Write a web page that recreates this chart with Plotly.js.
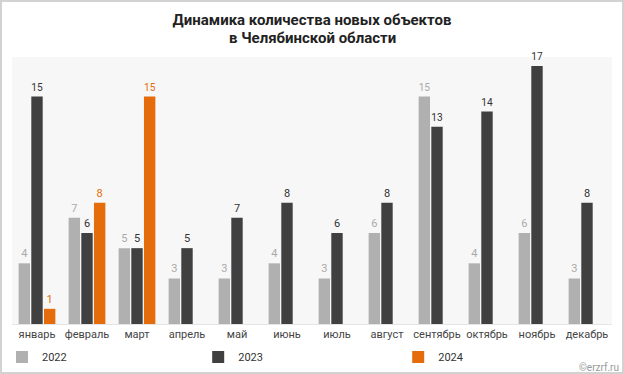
<!DOCTYPE html>
<html>
<head>
<meta charset="utf-8">
<script src="https://cdn.plot.ly/plotly-3.0.1.min.js"></script>
<style>
html,body{margin:0;padding:0;background:#d2d2d2;width:624px;height:374px;overflow:hidden;}
#chart{position:absolute;left:2px;top:2px;width:620px;height:370px;background:#fff;}
</style>
</head>
<body>
<div id="chart"></div>
<script>
const months = ["январь","февраль","март","апрель","май","июнь","июль","август","сентябрь","октябрь","ноябрь","декабрь"];
const v2022 = [4,7,5,3,3,4,3,6,15,4,6,3];
const v2023 = [15,6,5,5,7,8,6,8,13,14,17,8];
const v2024 = [1,8,15,null,null,null,null,null,null,null,null,null];
const seriesNames = ["2022","2023","2024"];
const titleLines = ["Динамика количества новых объектов", "в Челябинской области"];
const colors = ["#b0b0b0","#404040","#e46c0a"];
const labelColors = ["#aaaaaa","#333333","#e46c0a"];
const legendIds = ["legend","legend2","legend3"];

const data = [v2022, v2023, v2024].map((vals, i) => ({
  type: "bar",
  name: seriesNames[i],
  legend: legendIds[i],
  x: months,
  y: vals,
  marker: {color: colors[i]},
  text: vals.map(v => v === null ? "" : String(v)),
  textposition: "outside",
  textfont: {family: "Roboto, sans-serif", size: 11, color: labelColors[i]},
  cliponaxis: false,
  hoverinfo: "none"
}));

function legendAt(x) {
  return {
    orientation: "h", x: x, xanchor: "left",
    yref: "container", y: 1 - 355/370, yanchor: "middle",
    bgcolor: "rgba(0,0,0,0)", itemwidth: 30,
    font: {family: "Roboto, sans-serif", size: 11, color: "#333"}
  };
}

const titleFont = {family: "Roboto, sans-serif", size: 15, color: "#222"};

const layout = {
  width: 620, height: 370,
  margin: {l: 10, r: 10, t: 55, b: 48},
  paper_bgcolor: "#ffffff",
  plot_bgcolor: "#f7f7f7",
  font: {family: "Roboto, sans-serif", color: "#333"},
  title: {
    text: "<b>" + titleLines[0] + "</b>",
    font: titleFont,
    x: 0.5, xanchor: "center", y: 1 - 17.5/370, yanchor: "middle", yref: "container"
  },
  barmode: "group",
  bargap: 0.24,
  bargroupgap: 0.1,
  xaxis: {
    type: "category",
    showgrid: false, zeroline: false, showline: true, linecolor: "#e6e6e6",
    ticks: "", tickfont: {size: 11, color: "#444"}, automargin: false
  },
  yaxis: {
    range: [0, 17.6], visible: false, showgrid: false, zeroline: false
  },
  showlegend: true,
  legend: legendAt(-0.023),
  legend2: legendAt(1/3 - 0.023),
  legend3: legendAt(2/3 - 0.023),
  annotations: [
    {
      text: "<b>" + titleLines[1] + "</b>", xref: "paper", yref: "paper",
      x: 0.5, y: 1 + 18.5/267, xanchor: "center", yanchor: "middle",
      showarrow: false, font: titleFont
    },
    {
      text: "©erzrf.ru", xref: "paper", yref: "paper", x: 1.015, y: -0.135,
      xanchor: "right", yanchor: "top", showarrow: false,
      font: {size: 10, color: "#999"}
    }
  ]
};

Plotly.newPlot("chart", data, layout, {staticPlot: true, displayModeBar: false});
</script>
</body>
</html>
